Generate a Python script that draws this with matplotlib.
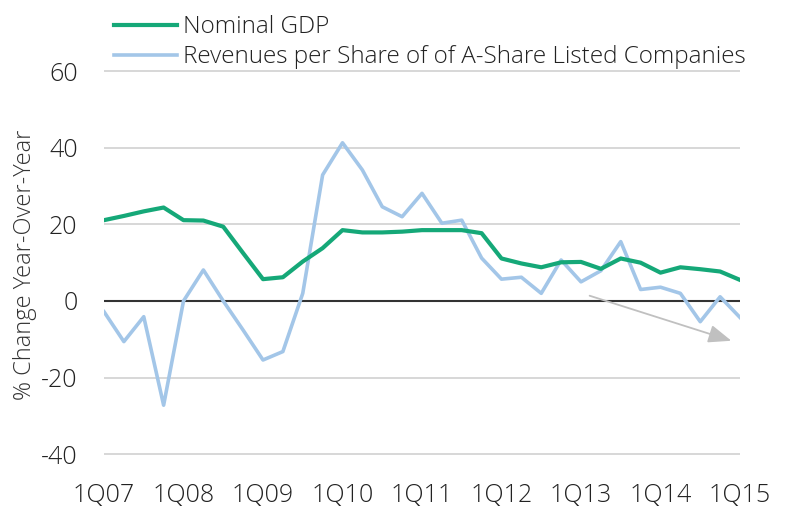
import numpy as np
import matplotlib.pyplot as plt

# Данные: квартальные значения, 1Q07 .. 1Q15
quarters = ["1Q07", "1Q08", "1Q09", "1Q10", "1Q11", "1Q12", "1Q13", "1Q14", "1Q15"]

nominal_gdp = [21.1, 22.2, 23.4, 24.4, 21.1, 21.0, 19.4, 12.5, 5.7, 6.2,
               10.3, 13.8, 18.5, 17.9, 17.9, 18.1, 18.5, 18.5, 18.5, 17.7,
               11.1, 9.8, 8.8, 10.1, 10.2, 8.4, 11.1, 10.0, 7.4, 8.8,
               8.3, 7.7, 5.5]

revenues = [-2.8, -10.6, -4.1, -27.2, 0.0, 8.1, 0.0, -7.6, -15.4, -13.2,
            2.0, 32.9, 41.3, 34.2, 24.6, 22.0, 28.1, 20.3, 21.1, 11.2,
            5.7, 6.2, 2.0, 10.7, 5.0, 7.9, 15.5, 3.0, 3.6, 2.0,
            -5.4, 1.1, -4.3]

# стрелка тренда (начало и конец, в единицах данных)
arrow_start = (24.3, 1.6)
arrow_end = (31.7, -10.6)

plt.rcParams['font.family'] = ['Open Sans', 'DejaVu Sans']
plt.rcParams['axes.unicode_minus'] = False

x = np.arange(len(nominal_gdp))

fig = plt.figure(figsize=(8, 5.14), dpi=100)
ax = fig.add_axes([0.13, 0.079, 0.795, 0.7975])

ax.set_ylim(-45, 62)
ax.set_xlim(0, 32)
ax.set_yticks([-40, -20, 0, 20, 40, 60])
for v in [-40, -20, 20, 40, 60]:
    ax.axhline(v, color='#d4d4d4', lw=1.3, zorder=0)
ax.axhline(0, color='#333333', lw=1.5, zorder=1)

l1, = ax.plot(x, nominal_gdp, color='#15a878', lw=3, zorder=3, solid_joinstyle='round')
l2, = ax.plot(x, revenues, color='#a3c6e8', lw=2.6, zorder=2, solid_joinstyle='round')

ax.annotate("", xy=arrow_end, xytext=arrow_start,
            arrowprops=dict(arrowstyle='-|>,head_length=1.4,head_width=0.55',
                            color='#c0c0c0', lw=1.3))

ax.set_xticks(np.arange(0, 33, 4))
ax.set_xticklabels(quarters)
ax.tick_params(axis='both', length=0, labelsize=18, colors='#222222')
ax.tick_params(axis='x', pad=7)
ax.tick_params(axis='y', pad=19)
for lab in ax.get_xticklabels() + ax.get_yticklabels():
    lab.set_fontweight('light')
for s in ax.spines.values():
    s.set_visible(False)

ax.set_ylabel("% Change Year-Over-Year", fontsize=17, color='#333333', fontweight='light')
ax.yaxis.set_label_coords(-0.106, 0.51)

leg = fig.legend([l1, l2], ["Nominal GDP", "Revenues per Share of of A-Share Listed Companies"],
                 loc='upper left', bbox_to_anchor=(0.115, 1.013), frameon=False,
                 fontsize=17.5, handlelength=2.6, handletextpad=0.25, labelspacing=0.25,
                 labelcolor='#222222')
for t in leg.get_texts():
    t.set_fontweight('light')

plt.savefig("out.png", dpi=100)
